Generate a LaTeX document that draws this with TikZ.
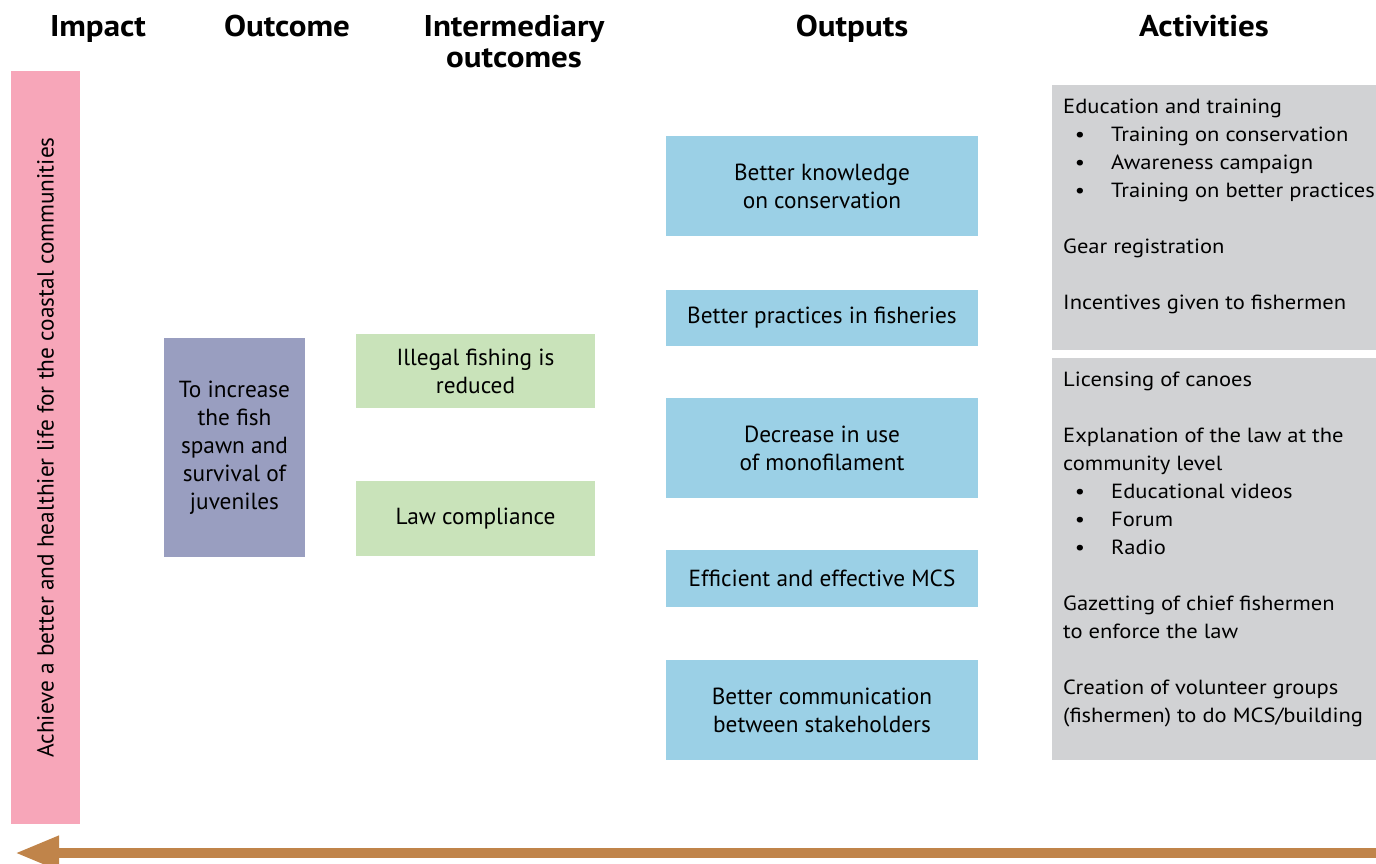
\documentclass[tikz,border=0pt]{standalone}
\usepackage{fontspec}
\setmainfont{PT Sans}
\newfontfamily\actfont{PT Sans}[FakeStretch=1.1]
\newfontfamily\headfont{PT Sans Bold}[FakeStretch=1.1]
\usetikzlibrary{arrows.meta}
\definecolor{impc}{HTML}{F7A6B9}
\definecolor{outc}{HTML}{999EC0}
\definecolor{intc}{HTML}{C9E3BA}
\definecolor{opc}{HTML}{9BD0E6}
\definecolor{actc}{HTML}{D1D2D4}
\definecolor{arrc}{HTML}{C0844A}
\begin{document}
\begin{tikzpicture}[x=1pt,y=-1pt,
  every node/.style={inner sep=0pt, font=\fontsize{23.3}{28}\selectfont},
  box/.style={rectangle, align=center},
  head/.style={font=\fontsize{30}{32}\headfont, anchor=base},
  line/.style={anchor=base west, font=\fontsize{20.5}{28}\actfont},
  bul/.style={anchor=base, font=\fontsize{20.5}{28}\actfont}]
\useasboundingbox (0,0) rectangle (1376,863);
% headers
\node[head] (h1) at (98,36) {Impact};
\node[head] (h2) at (287,36) {Outcome};
\node[head] (h3) at (514,36) {Intermediary};
\node[head] (h3b) at (514,67) {outcomes};
\node[head] (h4) at (852,36) {Outputs};
\node[head] (h5) at (1204,36) {Activities};
% impact
\node[box, fill=impc, minimum width=69pt, minimum height=753pt] (imp) at (45.5,447.5) {};
\node[rotate=90] (impt) at (imp.center) {Achieve a better and healthier life for the coastal communities};
% outcome
\node[box, fill=outc, minimum width=141pt, minimum height=219pt] (out) at (234.5,447.5) {To increase\\the fish\\spawn and\\survival of\\juveniles};
% intermediary
\node[box, fill=intc, minimum width=239pt, minimum height=74pt] (i1) at (475.5,371) {Illegal fishing is\\reduced};
\node[box, fill=intc, minimum width=239pt, minimum height=75pt] (i2) at (475.5,518.5) {Law compliance};
% outputs
\node[box, fill=opc, minimum width=312pt, minimum height=100pt] (o1) at (822,186) {Better knowledge\\on conservation};
\node[box, fill=opc, minimum width=312pt, minimum height=56pt] (o2) at (822,318) {Better practices in fisheries};
\node[box, fill=opc, minimum width=312pt, minimum height=100pt] (o3) at (822,448) {Decrease in use\\of monofilament};
\node[box, fill=opc, minimum width=312pt, minimum height=57pt] (o4) at (822,578.5) {Efficient and effective MCS};
\node[box, fill=opc, minimum width=312pt, minimum height=100pt] (o5) at (822,710) {Better communication\\between stakeholders};
% activities
\node[box, fill=actc, minimum width=324pt, minimum height=265pt] (a1) at (1214,217.5) {};
\node[box, fill=actc, minimum width=324pt, minimum height=402pt] (a2) at (1214,559) {};
\node[line] (l1) at (1063,113) {Education and training};
\node[bul] (b1) at (1080,141) {•};
\node[line] (l2) at (1111,141) {Training on conservation};
\node[bul] (b2) at (1080,169) {•};
\node[line] (l3) at (1111,169) {Awareness campaign};
\node[bul] (b3) at (1080,197) {•};
\node[line] (l4) at (1111,197) {Training on better practices};
\node[line] (l5) at (1063,253) {Gear registration};
\node[line] (l6) at (1063,309) {Incentives given to fishermen};
\node[line] (m1) at (1063,386) {Licensing of canoes};
\node[line] (m2) at (1063,442) {Explanation of the law at the};
\node[line] (m3) at (1063,470) {community level};
\node[bul] (c1) at (1080,498) {•};
\node[line] (m4) at (1111,498) {Educational videos};
\node[bul] (c2) at (1080,526) {•};
\node[line] (m5) at (1111,526) {Forum};
\node[bul] (c3) at (1080,554) {•};
\node[line] (m6) at (1111,554) {Radio};
\node[line] (m7) at (1063,610) {Gazetting of chief fishermen};
\node[line] (m8) at (1063,638) {to enforce the law};
\node[line] (m9) at (1063,694) {Creation of volunteer groups};
\node[line] (m10) at (1063,722) {(fishermen) to do MCS/building};
% arrow
\coordinate (as) at (1380,853);
\coordinate (ae) at (15,853);
\draw[arrc, line width=10pt, -{Triangle[length=44pt,width=32pt]}] (as) -- (ae);
\end{tikzpicture}
\end{document}
